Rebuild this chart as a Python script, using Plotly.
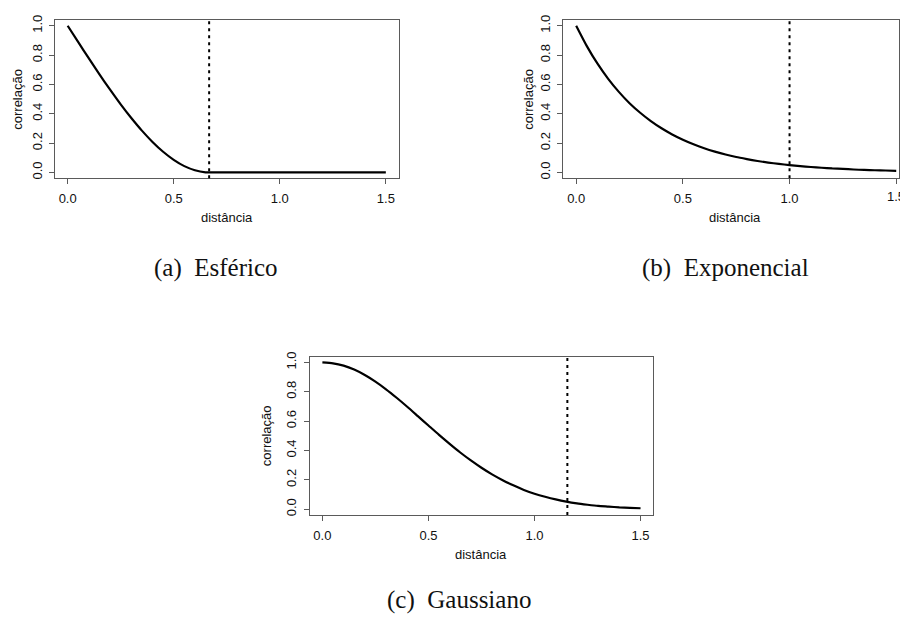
import plotly.graph_objects as go

W, H = 900, 617

# distance grid and correlation readings for each model
dist = [0.00, 0.05, 0.10, 0.15, 0.20, 0.25, 0.30, 0.35, 0.40, 0.45, 0.50,
        0.55, 0.60, 0.65, 0.70, 0.75, 0.80, 0.85, 0.90, 0.95, 1.00,
        1.05, 1.10, 1.15, 1.20, 1.25, 1.30, 1.35, 1.40, 1.45, 1.50]

corr_esferico = [1.000, 0.888, 0.777, 0.668, 0.564, 0.464, 0.371, 0.285, 0.208, 0.141, 0.086,
                 0.043, 0.015, 0.001, 0.000, 0.000, 0.000, 0.000, 0.000, 0.000, 0.000,
                 0.000, 0.000, 0.000, 0.000, 0.000, 0.000, 0.000, 0.000, 0.000, 0.000]

corr_exponencial = [1.000, 0.861, 0.741, 0.638, 0.549, 0.472, 0.407, 0.350, 0.301, 0.259, 0.223,
                    0.192, 0.165, 0.142, 0.122, 0.105, 0.091, 0.078, 0.067, 0.058, 0.050,
                    0.043, 0.037, 0.032, 0.027, 0.024, 0.020, 0.017, 0.015, 0.013, 0.011]

corr_gaussiano = [1.000, 0.994, 0.978, 0.951, 0.914, 0.869, 0.817, 0.759, 0.698, 0.634, 0.570,
                  0.506, 0.445, 0.386, 0.332, 0.282, 0.237, 0.197, 0.162, 0.131, 0.105,
                  0.084, 0.066, 0.051, 0.039, 0.030, 0.022, 0.017, 0.012, 0.009, 0.006]

# practical ranges (vertical reference lines)
alcance = [0.667, 1.000, 1.155]

captions = ["(a)  Esférico", "(b)  Exponencial", "(c)  Gaussiano"]
x_ticks = [0.0, 0.5, 1.0, 1.5]
x_ticktext = ["0.0", "0.5", "1.0", "1.5"]
y_ticks = [0.0, 0.2, 0.4, 0.6, 0.8, 1.0]

# panel boxes in pixels: (left, right, top, bottom)
boxes = [(55, 399, 15, 175), (564, 900, 15, 175), (310, 654, 355, 515)]
x_ranges = [[-0.06, 1.56], [-0.06, 1.513], [-0.06, 1.56]]
caption_pos = [(216, 266), (726, 266), (460, 601)]
ytitle_x = [16.7, 528.3, 266.7]

series = [corr_esferico, corr_exponencial, corr_gaussiano]

fig = go.Figure()
axis_col = "#5a5a5a"
tick_font = dict(family="Liberation Sans, Arial, sans-serif", size=13, color="#111")

for i, (ys, (l, r, t, b)) in enumerate(zip(series, boxes)):
    n = "" if i == 0 else str(i + 1)
    fig.add_trace(go.Scatter(
        x=dist, y=ys, mode="lines", line=dict(color="black", width=2.2, shape="spline", smoothing=0.6),
        xaxis="x" + n, yaxis="y" + n, showlegend=False, hoverinfo="skip"))
    fig.update_layout(**{
        "xaxis" + n: dict(
            domain=[l / W, r / W], range=x_ranges[i], anchor="y" + n,
            tickvals=x_ticks, ticktext=x_ticktext,
            ticks="outside", ticklen=5, tickcolor=axis_col, tickwidth=1,
            showline=True, linecolor=axis_col, linewidth=1, mirror=True,
            showgrid=False, zeroline=False, tickfont=tick_font, ticklabelstandoff=3),
        "yaxis" + n: dict(
            domain=[1 - b / H, 1 - t / H], range=[-0.04, 1.04], anchor="x" + n,
            tickvals=y_ticks, ticktext=["0.0", "0.2", "0.4", "0.6", "0.8", "1.0"],
            ticks="outside", ticklen=5, tickcolor=axis_col, tickwidth=1,
            showline=True, linecolor=axis_col, linewidth=1, mirror=True,
            showgrid=False, zeroline=False, tickfont=tick_font, tickangle=-90,
            ticklabelstandoff=2),
    })
    # practical range marker
    fig.add_shape(type="line", xref="x" + n, yref="y" + n + " domain",
                  x0=alcance[i], x1=alcance[i], y0=0, y1=1,
                  line=dict(color="black", width=2, dash="3px,4px"))
    # axis titles
    fig.add_annotation(text="distância", xref="paper", yref="paper",
                       x=(l + r + (8 if i == 1 else 0)) / 2 / W, y=1 - (b + 40) / H,
                       showarrow=False, font=tick_font, xanchor="center", yanchor="middle")
    fig.add_annotation(text="correlação", xref="paper", yref="paper",
                       x=ytitle_x[i] / W, y=1 - (t + b) / 2 / H, textangle=-90,
                       showarrow=False, font=tick_font, xanchor="center", yanchor="middle")
    # panel caption
    cx, cy = caption_pos[i]
    fig.add_annotation(text=captions[i], xref="paper", yref="paper",
                       x=cx / W, y=1 - cy / H, showarrow=False,
                       font=dict(family="Liberation Serif, Times New Roman, serif", size=25, color="#111"),
                       xanchor="center", yanchor="middle")

# the last tick label of panel (b) sits on the figure edge and is cut there
fig.add_annotation(text=x_ticktext[-1], xref="x2", yref="paper", x=x_ticks[-1],
                   y=1 - 193 / H, showarrow=False, font=tick_font,
                   xanchor="center", yanchor="middle")

fig.update_layout(width=W, height=H, margin=dict(l=0, r=0, t=0, b=0),
                  paper_bgcolor="white", plot_bgcolor="white")

clip_js = (
    "document.querySelectorAll('svg').forEach(function(s){s.style.overflow='hidden';});"
    "var d = document.getElementById('{plot_id}'); d.style.overflow = 'hidden';"
    "document.documentElement.style.overflow = 'hidden';"
    "document.body.style.overflow = 'hidden';"
)
fig.write_html("out.html", post_script=clip_js)
